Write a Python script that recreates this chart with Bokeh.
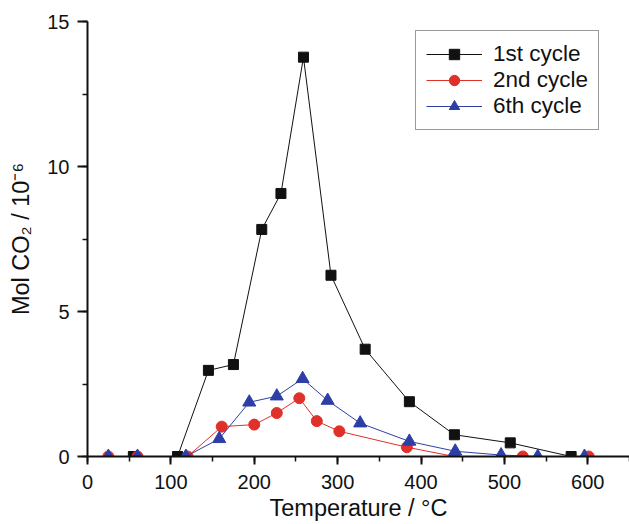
from bokeh.plotting import figure
from bokeh.models import Range1d, SingleIntervalTicker, Legend, LegendItem
from bokeh.embed import file_html
from bokeh.resources import INLINE

# ---- data ----
temp_1st = [55, 108, 145, 175, 209, 232, 259, 292, 333, 386, 440, 507, 580]
co2_1st = [0, 0, 2.97, 3.17, 7.83, 9.07, 13.77, 6.25, 3.70, 1.89, 0.75, 0.47, 0]

temp_2nd = [25, 60, 120, 161, 200, 227, 254, 275, 302, 383, 440, 522, 601]
co2_2nd = [0, 0, 0, 1.03, 1.10, 1.50, 2.01, 1.22, 0.87, 0.32, 0, 0, 0]

temp_6th = [25, 60, 118, 158, 194, 227, 258, 288, 327, 386, 441, 496, 540, 596]
co2_6th = [0, 0, 0, 0.61, 1.87, 2.08, 2.68, 1.93, 1.15, 0.52, 0.18, 0.05, 0, 0]

series_labels = ["1st cycle", "2nd cycle", "6th cycle"]
x_label = "Temperature / °C"
y_label = "Mol CO₂ / 10⁻⁶"

FONT = "Liberation Sans"
BLACK = "#111111"
RED = "#e0302a"
BLUE = "#2d3fa6"

p = figure(width=629, height=524, output_backend="svg", toolbar_location=None,
           x_range=Range1d(0, 650), y_range=Range1d(0, 15),
           min_border_left=87, min_border_right=0, min_border_top=21,
           min_border_bottom=68)
p.background_fill_color = "white"
p.border_fill_color = "white"
p.outline_line_color = None
p.xgrid.visible = False
p.ygrid.visible = False

p.xaxis.ticker = SingleIntervalTicker(interval=100, num_minor_ticks=2)
p.yaxis.ticker = SingleIntervalTicker(interval=5, num_minor_ticks=2)

for ax in (p.xaxis[0], p.yaxis[0]):
    ax.axis_line_width = 2
    ax.axis_line_color = BLACK
    ax.major_tick_line_color = BLACK
    ax.minor_tick_line_color = BLACK
    ax.major_tick_line_width = 2
    ax.minor_tick_line_width = 1.5
    ax.major_tick_in = 0
    ax.minor_tick_in = 0
    ax.minor_tick_out = 5
    ax.major_label_text_font = FONT
    ax.major_label_text_font_size = "20px"
    ax.major_label_text_color = BLACK
    ax.axis_label_text_font = FONT
    ax.axis_label_text_font_size = "23.5px"
    ax.axis_label_text_font_style = "normal"
    ax.axis_label_text_color = BLACK

p.xaxis.major_tick_out = 8
p.yaxis.major_tick_out = 10
p.xaxis.major_label_standoff = 10
p.yaxis.major_label_standoff = 8
p.xaxis.axis_label_standoff = 3
p.yaxis.axis_label_standoff = 10
p.xaxis.axis_label = x_label
p.yaxis.axis_label = y_label

l1 = p.line(temp_1st, co2_1st, line_color=BLACK, line_width=1)
s1 = p.scatter(temp_1st, co2_1st, marker="square", size=10,
               fill_color=BLACK, line_color=BLACK)
l2 = p.line(temp_2nd, co2_2nd, line_color=RED, line_width=1)
s2 = p.scatter(temp_2nd, co2_2nd, marker="circle", size=11,
               fill_color=RED, line_color=RED)
l6 = p.line(temp_6th, co2_6th, line_color=BLUE, line_width=1)
s6 = p.scatter(temp_6th, co2_6th, marker="triangle", size=13,
               fill_color=BLUE, line_color=BLUE)

legend = Legend(items=[
    LegendItem(label=series_labels[0], renderers=[l1, s1]),
    LegendItem(label=series_labels[1], renderers=[l2, s2]),
    LegendItem(label=series_labels[2], renderers=[l6, s6]),
], location=(328, 326))
legend.label_text_font = FONT
legend.label_text_font_size = "22.5px"
legend.label_text_color = BLACK
legend.glyph_width = 56
legend.glyph_height = 26
legend.label_height = 26
legend.label_standoff = 11
legend.spacing = 0
legend.padding = 10
legend.margin = 0
legend.border_line_color = "#333333"
legend.border_line_width = 1
legend.background_fill_color = "white"
legend.background_fill_alpha = 1
p.add_layout(legend)

open("out.html", "w").write(file_html(p, INLINE))
